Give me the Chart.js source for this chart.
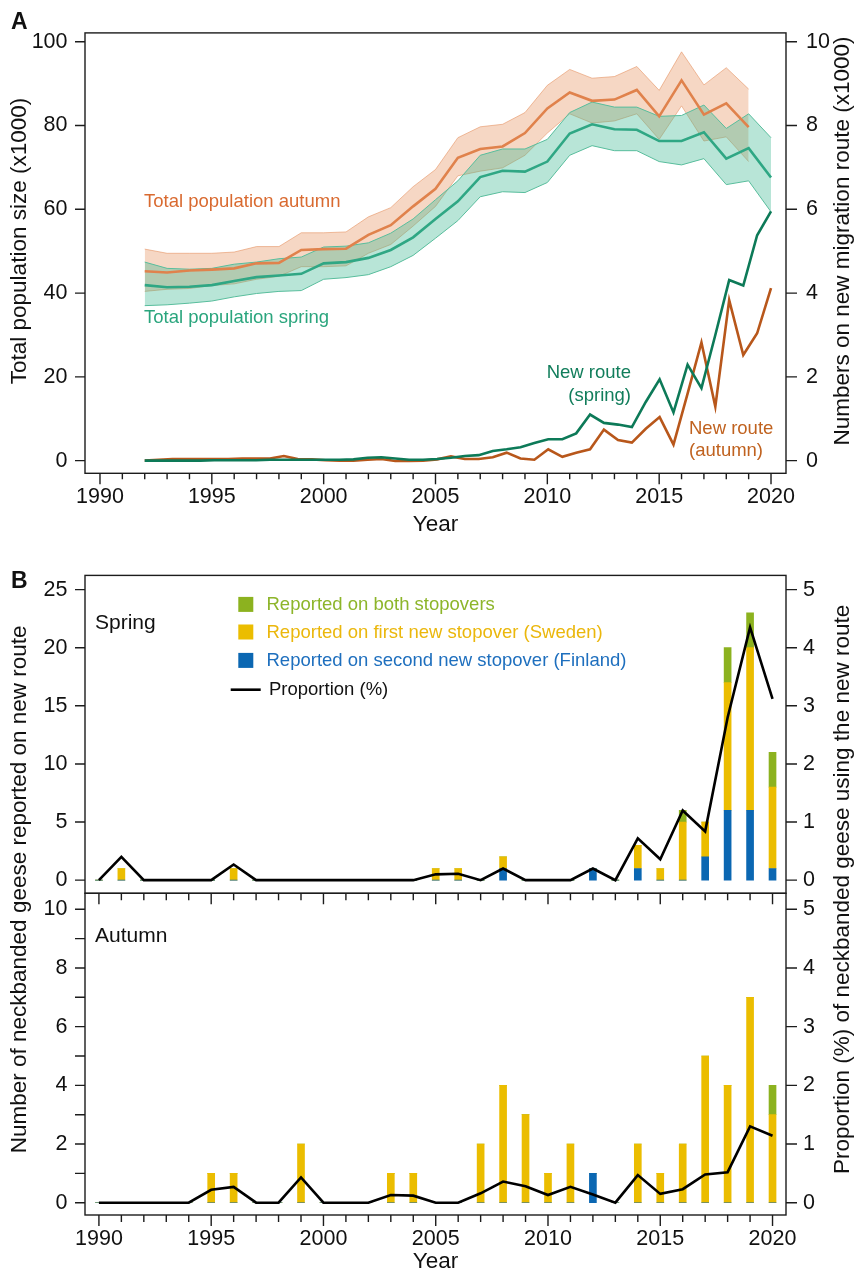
<!DOCTYPE html>
<html><head><meta charset="utf-8">
<title>Neckbanded geese on the new migration route</title>
<script src="https://cdn.jsdelivr.net/npm/chart.js@4.4.1/dist/chart.umd.min.js"></script>
<style>
html,body{margin:0;padding:0;background:#fff;}
#wrap{position:relative;width:856px;height:1277px;overflow:hidden;background:#fff;}
#wrap canvas{position:absolute;left:0;}
</style></head><body>
<div id="wrap">
<canvas id="chartA" width="856" height="545" style="top:0;width:856px;height:545px"></canvas>
<canvas id="chartSpring" width="856" height="732" style="top:545px;width:856px;height:732px"></canvas>
<canvas id="chartAutumn" width="856" height="732" style="top:545px;width:856px;height:732px"></canvas>
</div>
<script>
// ================= DATA =================
// Panel A: total population (x1000), estimate with band
const popYears = [1992,1993,1994,1995,1996,1997,1998,1999,2000,2001,2002,2003,2004,2005,2006,2007,2008,2009,2010,2011,2012,2013,2014,2015,2016,2017,2018,2019,2020];
const autumnMean = [45.2,44.9,45.4,45.6,45.9,47.1,47.2,50.3,50.5,50.6,53.9,56.2,60.7,64.9,72.3,74.4,75.0,78.2,84.1,87.9,85.9,86.2,88.5,82.2,90.8,82.6,85.3,79.6];
const autumnHigh = [50.5,49.5,49.5,49.5,49.8,51.1,51.1,54.4,54.4,54.6,58.2,60.4,65.4,69.5,77.1,79.7,80.3,83.1,89.6,93.4,91.3,91.7,94.1,88.4,97.6,89.7,93.8,88.7];
const autumnLow  = [40.4,40.9,41.1,41.8,42.2,43.3,44.0,46.3,46.3,46.5,49.5,51.6,56.0,60.7,68.0,69.1,69.9,72.9,78.2,82.8,80.6,81.1,82.8,76.7,84.7,76.3,77.3,71.4];
const springMean = [41.9,41.4,41.5,41.9,42.9,43.8,44.2,44.6,47.1,47.4,48.4,50.3,53.3,57.7,61.9,67.7,69.2,69.0,71.4,78.1,80.3,79.1,79.0,76.3,76.3,78.4,72.1,74.6,67.6];
const springHigh = [47.4,45.9,45.7,45.9,46.9,47.4,48.2,48.6,51.0,51.2,52.0,54.3,57.7,62.3,66.8,72.9,74.4,74.4,76.7,83.1,85.6,84.4,84.4,82.2,82.4,84.9,79.3,82.8,77.1];
const springLow  = [37.0,37.2,37.6,38.1,39.1,39.9,40.4,40.6,43.3,43.7,44.4,46.3,49.0,53.1,57.3,63.0,64.2,64.0,66.4,72.9,75.2,74.0,74.0,71.4,70.6,72.1,65.9,66.8,59.4];
// Panel A: numbers on new migration route (x1000)
const routeX = [1992.00,1992.62,1993.24,1993.87,1994.49,1995.11,1995.73,1996.36,1996.98,1997.60,1998.22,1998.84,1999.47,2000.09,2000.71,2001.33,2001.96,2002.58,2003.20,2003.82,2004.44,2005.07,2005.69,2006.31,2006.93,2007.56,2008.18,2008.80,2009.42,2010.04,2010.67,2011.29,2011.91,2012.53,2013.16,2013.78,2014.40,2015.02,2015.64,2016.27,2016.89,2017.51,2018.13,2018.76,2019.38,2020.00];
const routeSpring = [0.0,0.0,0.0,0.0,0.0,0.01,0.01,0.01,0.01,0.02,0.02,0.02,0.02,0.02,0.02,0.03,0.07,0.08,0.05,0.02,0.02,0.04,0.07,0.11,0.13,0.23,0.27,0.32,0.42,0.51,0.51,0.65,1.10,0.90,0.86,0.80,1.40,1.94,1.15,2.29,1.73,3.00,4.31,4.18,5.38,5.95];
const routeAutumn = [0.0,0.02,0.04,0.04,0.04,0.04,0.04,0.05,0.05,0.05,0.11,0.04,0.03,0.01,0.0,0.0,0.02,0.04,-0.01,-0.01,0.0,0.03,0.10,0.04,0.04,0.08,0.19,0.05,0.02,0.27,0.09,0.19,0.27,0.74,0.49,0.43,0.76,1.04,0.38,1.60,2.82,1.29,3.83,2.52,3.04,4.12];

// Panel B: neckbanded geese reported on new route
const barYears = [1990,1991,1992,1993,1994,1995,1996,1997,1998,1999,2000,2001,2002,2003,2004,2005,2006,2007,2008,2009,2010,2011,2012,2013,2014,2015,2016,2017,2018,2019,2020];
const springFinland = [0,0,0,0,0,0,0,0,0,0,0,0,0,0,0,0,0,0,1,0,0,0,1,0,1,0,0,2,6,6,1];
const springSweden  = [0,1,0,0,0,0,1,0,0,0,0,0,0,0,0,1,1,0,1,0,0,0,0,0,2,1,5,3,11,14,7];
const springBoth    = [0,0,0,0,0,0,0,0,0,0,0,0,0,0,0,0,0,0,0,0,0,0,0,0,0,0,1,0,3,3,3];
const springProportion = [0,0.40,0,0,0,0,0.27,0,0,0,0,0,0,0,0,0.10,0.11,0,0.20,0,0,0,0.20,0,0.72,0.36,1.20,0.84,2.80,4.35,3.12];
const autumnFinland = [0,0,0,0,0,0,0,0,0,0,0,0,0,0,0,0,0,0,0,0,0,0,1,0,0,0,0,0,0,0,0];
const autumnSweden  = [0,0,0,0,0,1,1,0,0,2,0,0,0,1,1,0,0,2,4,3,1,2,0,0,2,1,2,5,4,7,3];
const autumnBoth    = [0,0,0,0,0,0,0,0,0,0,0,0,0,0,0,0,0,0,0,0,0,0,0,0,0,0,0,0,0,0,1];
const autumnProportion = [0,0,0,0,0,0.22,0.27,0,0,0.43,0,0,0,0.13,0.12,0,0,0.16,0.36,0.28,0.13,0.27,0.14,0,0.47,0.15,0.23,0.48,0.52,1.30,1.14];

// Tick labels
const yearTicks = [1990,1995,2000,2005,2010,2015,2020];
const popTicks = [0,20,40,60,80,100];
const routeTicks = [0,2,4,6,8,10];
const springCountTicks = [0,5,10,15,20,25];
const autumnCountTicks = [0,2,4,6,8,10];
const autumnMinorTicks = [0,1,2,3,4,5,6,7,8,9,10];
const propTicks = [0,1,2,3,4,5];

// ================= STYLE =================
const FONT = '"Liberation Sans", Arial, Helvetica, sans-serif';
Chart.defaults.font.family = FONT;
Chart.defaults.color = '#111';
const AXIS = '#1c1c1c';
const TICK_FONT = {size: 21.5};
const C = {
  autLine:'#e0824c', autBand:'rgba(228,130,72,0.32)', autEdge:'rgba(228,140,90,0.55)',
  sprLine:'#2fa784', sprBand:'rgba(52,180,140,0.35)', sprEdge:'#58bd9c',
  routeSpr:'#0d7a58', routeAut:'#b8571b',
  both:'#8cb21f', swe:'#ebbd00', fin:'#0b67b2',
  bothTxt:'#8db52a', sweTxt:'#ebb70c', finTxt:'#1e6fbe'
};

const pts = (xs, ys) => ys.map((y, i) => ({x: xs[i], y}));
const setTicks = arr => s => { s.ticks = arr.map(v => ({value: v})); };
const noGrid = {display:false, drawTicks:false};
const noBorder = {display:false};

function lineSet(data, color, width, order, extra){
  return Object.assign({type:'line', data, borderColor:color, borderWidth:width, pointRadius:0, pointHoverRadius:0,
    tension:0, fill:false, order, borderJoinStyle:'miter'}, extra||{});
}
function txt(ctx, s, x, y, o){
  o = o||{};
  ctx.save();
  ctx.font = (o.weight||'normal') + ' ' + (o.size||18.5) + 'px ' + FONT;
  ctx.fillStyle = o.color||'#111';
  ctx.textAlign = o.align||'left';
  ctx.textBaseline = 'middle';
  ctx.fillText(s, x, y);
  ctx.restore();
}
function vtxt(ctx, s, x, y, size){
  ctx.save();
  ctx.translate(x, y); ctx.rotate(-Math.PI/2);
  ctx.font = size + 'px ' + FONT; ctx.fillStyle = '#111';
  ctx.textAlign = 'center'; ctx.textBaseline = 'middle';
  ctx.fillText(s, 0, 0);
  ctx.restore();
}
function drawFrame(ctx, a){
  ctx.strokeStyle = AXIS; ctx.lineWidth = 1.4;
  ctx.strokeRect(a.left, a.top, a.right - a.left, a.bottom - a.top);
}
function yearTickMarks(ctx, a, xs, minorLen, majorLen){
  ctx.beginPath();
  for (let yr = yearTicks[0]; yr <= yearTicks[yearTicks.length-1]; yr++){
    const x = xs.getPixelForValue(yr);
    ctx.moveTo(x, a.bottom); ctx.lineTo(x, a.bottom + (yr % 5 === 0 ? majorLen : minorLen));
  }
  ctx.stroke();
}
function sideTicks(ctx, a, scale, values, side, len){
  ctx.beginPath();
  values.forEach(v => {
    const y = scale.getPixelForValue(v);
    if (side === 'left'){ ctx.moveTo(a.left - len, y); ctx.lineTo(a.left, y); }
    else { ctx.moveTo(a.right, y); ctx.lineTo(a.right + len, y); }
  });
  ctx.stroke();
}

const baseOpts = {
  responsive:false, animation:false, events:[], devicePixelRatio:1,
  plugins:{legend:{display:false}, tooltip:{enabled:false}}
};

// ================= PANEL A =================
const autYears = popYears.slice(0, autumnMean.length);
const panelAPlugin = {
  id:'panelA',
  afterDraw(chart){
    const ctx = chart.ctx, a = chart.chartArea, s = chart.scales;
    ctx.save();
    drawFrame(ctx, a);
    sideTicks(ctx, a, s.y, popTicks, 'left', 10);
    sideTicks(ctx, a, s.y2, routeTicks, 'right', 11);
    yearTickMarks(ctx, a, s.x, 6, 11);
    ctx.restore();
    txt(ctx, 'A', 11, 23, {size:23, weight:'bold'});
    txt(ctx, 'Total population autumn', 144, 202, {color:'#d96a30'});
    txt(ctx, 'Total population spring', 144, 318, {color:'#2aa57d'});
    txt(ctx, 'New route', 631, 373, {color:'#117d5b', align:'right'});
    txt(ctx, '(spring)', 631, 396, {color:'#117d5b', align:'right'});
    txt(ctx, 'New route', 689, 429, {color:'#c0621f'});
    txt(ctx, '(autumn)', 689, 451, {color:'#c0621f'});
    txt(ctx, 'Year', (a.left + a.right)/2, 525, {size:22.5, align:'center'});
    vtxt(ctx, 'Total population size (x1000)', 20, 241, 22.5);
    vtxt(ctx, 'Numbers on new migration route (x1000)', 843, 241, 22.5);
  }
};

new Chart(document.getElementById('chartA'), {
  type:'line',
  data:{datasets:[
    lineSet(pts(autYears, autumnHigh), C.autEdge, 1, 8, {fill:'+1', backgroundColor:C.autBand}),
    lineSet(pts(autYears, autumnLow), C.autEdge, 1, 7),
    lineSet(pts(popYears, springHigh), C.sprEdge, 1, 6, {fill:'+1', backgroundColor:C.sprBand}),
    lineSet(pts(popYears, springLow), C.sprEdge, 1, 5),
    lineSet(pts(autYears, autumnMean), C.autLine, 2.6, 4),
    lineSet(pts(popYears, springMean), C.sprLine, 2.6, 3),
    lineSet(pts(routeX, routeAutumn), C.routeAut, 2.6, 2, {yAxisID:'y2'}),
    lineSet(pts(routeX, routeSpring), C.routeSpr, 2.6, 1, {yAxisID:'y2'})
  ]},
  options:Object.assign({}, baseOpts, {
    layout:{padding:{top:11.7, left:0, right:0, bottom:0}},
    scales:{
      x:{type:'linear', min:1989.33, max:2020.67, afterBuildTicks:setTicks(yearTicks),
         ticks:{font:TICK_FONT, padding:11, maxRotation:0, autoSkip:false, callback:v => String(v)},
         grid:noGrid, border:noBorder, afterFit:s => { s.height = 545 - 473.3; }},
      y:{type:'linear', position:'left', min:-3.03, max:102.12, afterBuildTicks:setTicks(popTicks),
         ticks:{font:TICK_FONT, padding:17.5, callback:v => String(v)},
         grid:noGrid, border:noBorder, afterFit:s => { s.width = 85; }},
      y2:{type:'linear', position:'right', min:-0.303, max:10.212, afterBuildTicks:setTicks(routeTicks),
         ticks:{font:TICK_FONT, padding:20, callback:v => String(v)},
         grid:noGrid, border:noBorder, afterFit:s => { s.width = 70; }}
    }
  }),
  plugins:[panelAPlugin]
});

// ================= PANEL B =================
function barSet(data, color){
  return {type:'bar', data:pts(barYears, data), backgroundColor:color, borderWidth:0,
    barThickness:7, grouped:false, stack:'geese', yAxisID:'y', order:2};
}
function propSet(data){
  return lineSet(pts(barYears, data), '#000', 2.6, 1, {yAxisID:'y2'});
}
function panelBScales(cfg){
  return {
    x:{type:'linear', min:1989.38, max:2020.6, offset:false, stacked:true, afterBuildTicks:setTicks(yearTicks),
       ticks:{display:cfg.showX, font:TICK_FONT, padding:11, maxRotation:0, autoSkip:false, callback:v => String(v)},
       grid:noGrid, border:noBorder, afterFit:s => { s.height = cfg.xH; }},
    y:{type:'linear', position:'left', stacked:true, min:cfg.yMin, max:cfg.yMax, afterBuildTicks:setTicks(cfg.yTicks),
       ticks:{font:TICK_FONT, padding:17.5, callback:v => String(v)},
       grid:noGrid, border:noBorder, afterFit:s => { s.width = 85; }},
    y2:{type:'linear', position:'right', stacked:false, min:cfg.y2Min, max:cfg.y2Max, afterBuildTicks:setTicks(propTicks),
       ticks:{font:TICK_FONT, padding:17, callback:v => String(v)},
       grid:noGrid, border:noBorder, afterFit:s => { s.width = 70; }}
  };
}

const springPlugin = {
  id:'springDeco',
  afterDraw(chart){
    const ctx = chart.ctx, a = chart.chartArea, s = chart.scales;
    ctx.save();
    drawFrame(ctx, a);
    sideTicks(ctx, a, s.y, springCountTicks, 'left', 10);
    sideTicks(ctx, a, s.y2, propTicks, 'right', 11);
    yearTickMarks(ctx, a, s.x, 7, 11);
    // legend
    const lx = 238.3, rows = [a.top + 29, a.top + 56.6, a.top + 85];
    const items = [[C.both, C.bothTxt, 'Reported on both stopovers'],
                   [C.swe, C.sweTxt, 'Reported on first new stopover (Sweden)'],
                   [C.fin, C.finTxt, 'Reported on second new stopover (Finland)']];
    items.forEach((it, i) => {
      ctx.fillStyle = it[0];
      ctx.fillRect(lx, rows[i] - 7.5, 15, 15);
      txt(ctx, it[2], 266.5, rows[i] + 0.5, {color:it[1]});
    });
    ctx.strokeStyle = '#000'; ctx.lineWidth = 2.6;
    ctx.beginPath(); ctx.moveTo(230.7, a.top + 114.3); ctx.lineTo(260.7, a.top + 114.3); ctx.stroke();
    ctx.restore();
    txt(ctx, 'Proportion (%)', 269, a.top + 114.8);
    txt(ctx, 'Spring', a.left + 10, a.top + 48.3, {size:21});
    txt(ctx, 'B', 11, a.top + 6.5, {size:23, weight:'bold'});
  }
};

new Chart(document.getElementById('chartSpring'), {
  type:'bar',
  data:{datasets:[
    barSet(springFinland, C.fin),
    barSet(springSweden, C.swe),
    barSet(springBoth, C.both),
    propSet(springProportion)
  ]},
  options:Object.assign({}, baseOpts, {
    layout:{padding:{top:26.7, left:0, right:0, bottom:372}},
    scales:panelBScales({showX:false, xH:11.7, yMin:-1.13, yMax:26.22, yTicks:springCountTicks, y2Min:-0.226, y2Max:5.244})
  }),
  plugins:[springPlugin]
});

const autumnPlugin = {
  id:'autumnDeco',
  afterDraw(chart){
    const ctx = chart.ctx, a = chart.chartArea, s = chart.scales;
    ctx.save();
    drawFrame(ctx, a);
    sideTicks(ctx, a, s.y, autumnMinorTicks, 'left', 10);
    sideTicks(ctx, a, s.y2, propTicks, 'right', 11);
    yearTickMarks(ctx, a, s.x, 7, 11);
    ctx.restore();
    txt(ctx, 'Autumn', a.left + 10, a.top + 43.4, {size:21});
    txt(ctx, 'Year', (a.left + a.right)/2, a.bottom + 47, {size:22.5, align:'center'});
    const mid = (26.7 + a.bottom)/2 - 4;
    vtxt(ctx, 'Number of neckbanded geese reported on new route', 20, mid, 22.5);
    vtxt(ctx, 'Proportion (%) of neckbanded geese using the new route', 843, mid, 22.5);
  }
};

new Chart(document.getElementById('chartAutumn'), {
  type:'bar',
  data:{datasets:[
    barSet(autumnFinland, C.fin),
    barSet(autumnSweden, C.swe),
    barSet(autumnBoth, C.both),
    propSet(autumnProportion)
  ]},
  options:Object.assign({}, baseOpts, {
    layout:{padding:{top:348.3, left:0, right:0, bottom:0}},
    scales:panelBScales({showX:true, xH:62, yMin:-0.419, yMax:10.545, yTicks:autumnCountTicks, y2Min:-0.21, y2Max:5.273})
  }),
  plugins:[autumnPlugin]
});
</script>
</body></html>
